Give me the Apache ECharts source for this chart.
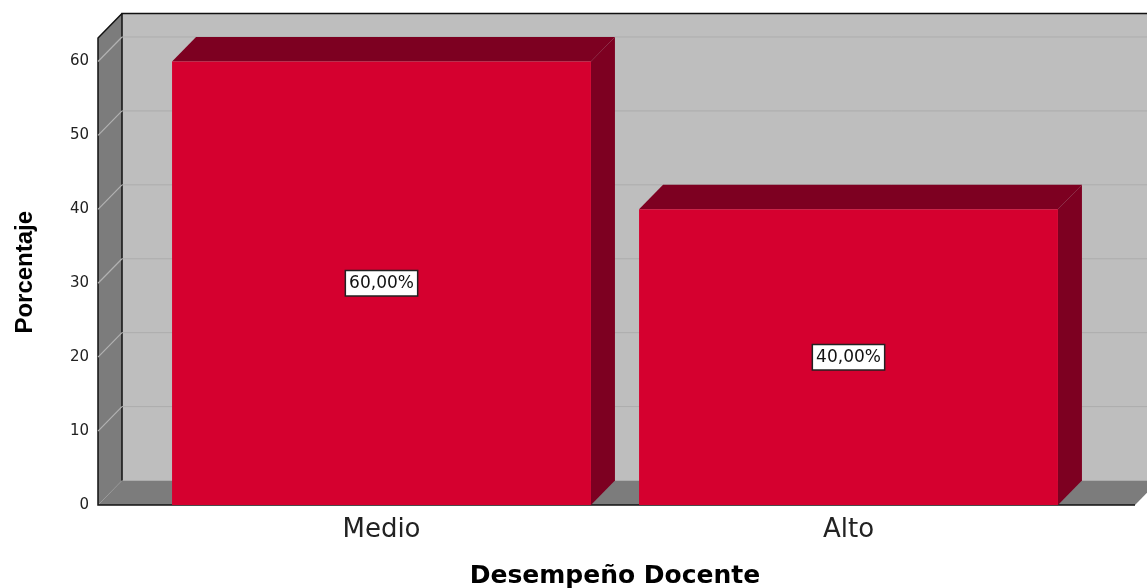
<!DOCTYPE html>
<html><head><meta charset="utf-8">
<style>html,body{margin:0;padding:0;background:#fff}#c{width:1147px;height:588px}</style>
<script src="https://cdn.jsdelivr.net/npm/echarts@6/dist/echarts.min.js"></script>
</head><body><div id="c"></div>
<script>
const categories = ['Medio', 'Alto'];
const percentages = [60, 40];
const gridValues = [10, 20, 30, 40, 50, 60];
const xTitle = 'Desempeño Docente';
const yTitle = 'Porcentaje';

const DX = 24, DY = 24.5;            // oblique depth of the pseudo-3D box
const PAD_L = 50, PAD_R = 53, PAD_T = 23.5;
const C = {front:'#D5002F', top:'#7D0021', side:'#7D0021', wall:'#BEBEBE', dark:'#7C7C7C',
           gridBack:'#ADADAD', gridLeft:'#B2B2B2', line:'#111'};
const poly = (points, fill) => ({type:'polygon', shape:{points}, style:{fill, stroke:null}});
const path = (points, stroke, lineWidth) => ({type:'polyline', shape:{points}, style:{fill:null, stroke, lineWidth}});

const chart = echarts.init(document.getElementById('c'), null, {renderer:'canvas'});
chart.setOption({
  animation:false,
  backgroundColor:'#fff',
  grid:{left:148, width:934, top:61.5, height:443.5, outerBoundsMode:'none', containLabel:false},
  xAxis:{type:'category', data:categories, axisLine:{show:false}, axisTick:{show:false}, splitLine:{show:false},
    axisLabel:{color:'#222', fontFamily:'DejaVu Sans', fontSize:26, margin:12},
    name:xTitle, nameLocation:'middle', nameGap:59,
    nameTextStyle:{color:'#000', fontFamily:'DejaVu Sans', fontWeight:'bold', fontSize:25, padding:[0,0,0,0]}},
  yAxis:{type:'value', min:0, max:60, interval:10, axisLine:{show:false}, axisTick:{show:false}, splitLine:{show:false},
    axisLabel:{color:'#222', fontFamily:'DejaVu Sans', fontSize:15, margin:59, padding:[3,0,0,0]},
    name:yTitle, nameLocation:'middle', nameGap:111, nameRotate:90,
    nameTextStyle:{color:'#000', fontFamily:'Liberation Sans', fontWeight:'bold', fontSize:24, padding:[0,0,0,22]}},
  series:[
    {type:'custom', silent:true, z:1, data:[[0,0]], renderItem(p, api){
      const s = p.coordSys, b = s.y + s.height;
      const xl = s.x - PAD_L, xr = s.x + s.width + PAD_R, t = s.y - PAD_T;
      return {type:'group', children:[
        poly([[xl+DX,t-DY],[xr+DX,t-DY],[xr+DX,b-DY],[xl+DX,b-DY]], C.wall),
        poly([[xl,t],[xl+DX,t-DY],[xl+DX,b-DY],[xl,b]], C.dark),
        poly([[xl,b],[xl+DX,b-DY],[xr+DX,b-DY],[xr,b]], C.dark),
        path([[xl+DX,b-DY],[xl+DX,t-DY],[xr+DX,t-DY]], C.line, 1.5),
        path([[xl+DX,t-DY],[xl,t],[xl,b],[xr,b]], C.line, 1.5)
      ]};
    }},
    {type:'custom', silent:true, z:2, data:gridValues.map(v=>[0,v]), renderItem(p, api){
      const s = p.coordSys, y = api.coord([0, api.value(1)])[1];
      const xl = s.x - PAD_L, xr = s.x + s.width + PAD_R;
      return {type:'group', children:[
        path([[xl,y],[xl+DX,y-DY]], C.gridLeft, 1.2),
        path([[xl+DX,y-DY],[xr+DX,y-DY]], C.gridBack, 1)
      ]};
    }},
    {type:'custom', z:3, data:percentages.map((v,i)=>[i,v]), renderItem(p, api){
      const v = api.value(1), top = api.coord([api.value(0), v]), base = api.coord([api.value(0), 0]);
      const w = api.size([1,0])[0] * 0.897, l = top[0]-w/2, r = top[0]+w/2, t = top[1], b = base[1];
      const mid = api.coord([api.value(0), v/2]);
      return {type:'group', children:[
        poly([[l,t],[l+DX,t-DY],[r+DX,t-DY],[r,t]], C.top),
        poly([[r,t],[r+DX,t-DY],[r+DX,b-DY],[r,b]], C.side),
        poly([[l,t],[r,t],[r,b],[l,b]], C.front),
        {type:'text', x:mid[0], y:mid[1], style:{text:v.toFixed(2).replace('.',',')+'%', align:'center', verticalAlign:'middle',
          fontFamily:'DejaVu Sans', fontSize:17, fill:'#111', backgroundColor:'#fff', borderColor:'#222', borderWidth:1.5, padding:[4,3,3,3]}}
      ]};
    }}
  ]
});
</script></body></html>
